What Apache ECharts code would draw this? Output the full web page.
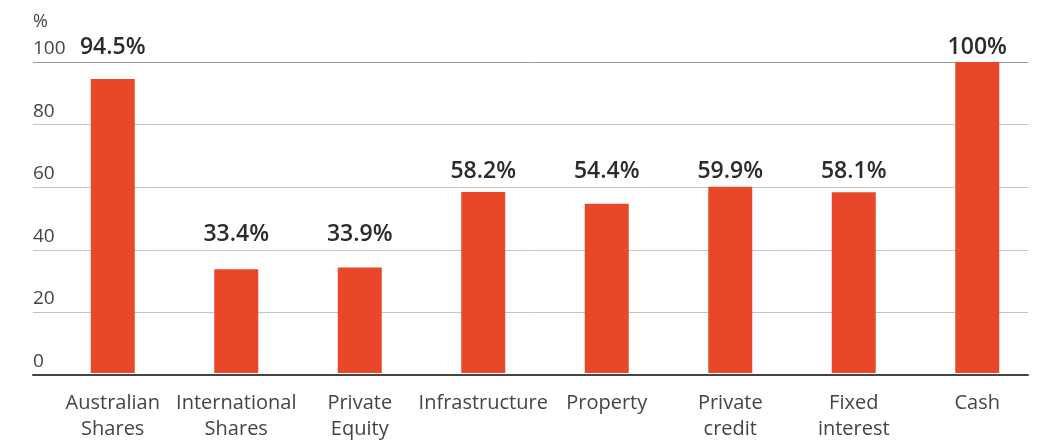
<!DOCTYPE html>
<html><head><meta charset="utf-8">
<script src="https://cdn.jsdelivr.net/npm/echarts@6/dist/echarts.min.js"></script>
<style>html,body{margin:0;padding:0;background:#fff}#c{width:1048px;height:442px}</style>
</head><body><div id="c"></div>
<script>
const categories = ['Australian\nShares','International\nShares','Private\nEquity','Infrastructure','Property','Private\ncredit','Fixed\ninterest','Cash'];
const values = [94.5, 33.4, 33.9, 58.2, 54.4, 59.9, 58.1, 100];
const valueLabels = ['94.5%','33.4%','33.9%','58.2%','54.4%','59.9%','58.1%','100%'];
const yTicks = [0, 20, 40, 60, 80, 100];
const tickStep = 20;

// value labels sit just above the next gridline above each bar
const labelAnchors = values.map((v, i) => [i, Math.ceil(v / tickStep) * tickStep]);

const FONT = '"Open Sans", "Noto Sans", sans-serif';
const chart = echarts.init(document.getElementById('c'), null, {renderer: 'canvas'});
chart.setOption({
  animation: false,
  grid: [
    {left: 33, right: 20, top: 62, bottom: 67},
    {left: 51, right: 9, top: 62, bottom: 67}
  ],
  xAxis: [
    {gridIndex: 0, type: 'value', min: 0, max: 1, show: true,
     axisLine: {show: true, onZero: false, lineStyle: {color: '#444', width: 2}},
     axisTick: {show: false}, axisLabel: {show: false}, splitLine: {show: false}},
    {gridIndex: 1, type: 'category', data: categories,
     axisLine: {show: false}, axisTick: {show: false},
     axisLabel: {color: '#444', fontSize: 20, fontFamily: FONT, lineHeight: 26, margin: 17, interval: 0}}
  ],
  yAxis: [
    {gridIndex: 0, type: 'value', min: 0, max: 100, interval: tickStep,
     name: '%', nameLocation: 'end', nameGap: 31,
     nameTextStyle: {color: '#444', fontSize: 18, fontFamily: FONT, align: 'left'},
     axisLine: {show: false}, axisTick: {show: false},
     axisLabel: {inside: true, margin: 0, align: 'left', verticalAlign: 'bottom', padding: [0,0,4,0],
       color: '#444', fontSize: 19, fontFamily: FONT,
       formatter: v => yTicks.includes(v) ? String(v) : ''},
     splitLine: {show: true, lineStyle: {color: ['#c4c4c4','#c4c4c4','#c4c4c4','#c4c4c4','#c4c4c4','#9a9a9a'], width: 1}}},
    {gridIndex: 1, type: 'value', min: 0, max: 100, show: false, splitLine: {show: false}}
  ],
  series: [{
    type: 'bar', xAxisIndex: 1, yAxisIndex: 1, data: values, barWidth: 44,
    itemStyle: {color: '#E8472A'}
  }, {
    type: 'scatter', xAxisIndex: 1, yAxisIndex: 1, data: labelAnchors, symbolSize: 0,
    silent: true, itemStyle: {opacity: 1},
    label: {show: true, position: 'top', distance: 3, color: '#2b2b2b', opacity: 1, fontSize: 23, fontWeight: 600, fontFamily: FONT,
      formatter: p => valueLabels[p.dataIndex]}
  }]
});
</script></body></html>
